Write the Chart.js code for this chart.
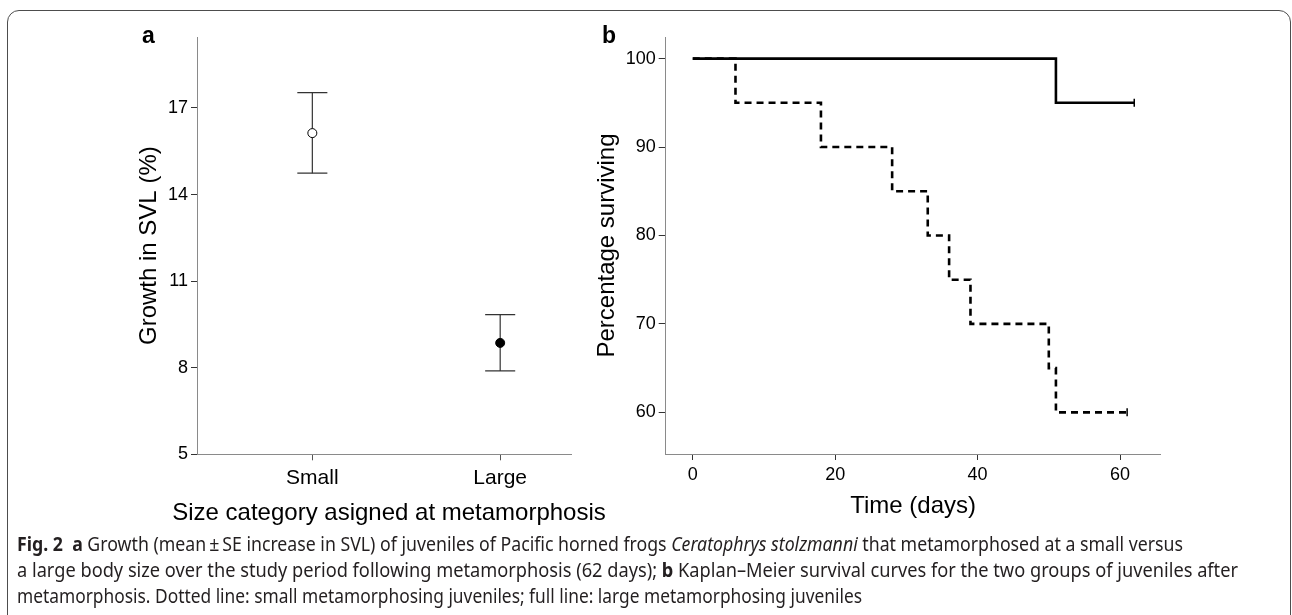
<!DOCTYPE html>
<html>
<head>
<meta charset="utf-8">
<script src="https://cdn.jsdelivr.net/npm/chart.js@4.4.1/dist/chart.umd.min.js"></script>
<style>
  body { margin: 0; background: #fff; width: 1292px; height: 615px; overflow: hidden; position: relative; font-family: "Liberation Sans", Arial, sans-serif; }
  #frame { position: absolute; left: 7px; top: 10px; width: 1284px; height: 640px; box-sizing: border-box; border: 1.5px solid #4d4d4d; border-radius: 12px; }
  #chartA { position: absolute; left: 0; top: 0; }
  #chartB { position: absolute; left: 580px; top: 0; }
  .panel { position: absolute; font-weight: bold; font-size: 23px; color: #000; }
  #xTitleA { position: absolute; left: 89px; width: 600px; top: 500px; text-align: center; font-size: 24px; line-height: 24px; color: #000; white-space: nowrap; }
  #caption { position: absolute; left: 17px; top: 531px; font-family: "Noto Sans", "Open Sans", sans-serif; font-size: 20px; line-height: 26px; color: #231f20; white-space: nowrap; }
  #caption .ln { width: max-content; transform-origin: left center; }
</style>
</head>
<body>
<div id="frame"></div>
<canvas id="chartA" width="620" height="540"></canvas>
<canvas id="chartB" width="712" height="540"></canvas>
<div class="panel" style="left:142px; top:22px;">a</div>
<div class="panel" style="left:602px; top:22px;">b</div>
<div id="xTitleA">Size category asigned at metamorphosis</div>
<div id="caption">
  <div class="ln" data-w="1166"><b>Fig. 2</b>&nbsp; <b>a</b> Growth (mean&thinsp;±&thinsp;SE increase in SVL) of juveniles of Pacific horned frogs <i>Ceratophrys stolzmanni</i> that metamorphosed at a small versus</div>
  <div class="ln" data-w="1221">a large body size over the study period following metamorphosis (62 days); <b>b</b> Kaplan–Meier survival curves for the two groups of juveniles after</div>
  <div class="ln" data-w="845">metamorphosis. Dotted line: small metamorphosing juveniles; full line: large metamorphosing juveniles</div>
</div>
<script>
// panel a: growth, mean +/- SE
var groups = ["Small", "Large"];
var groupPos = [1, 2];
var growthMean = [16.13, 8.86];
var growthUpper = [17.53, 9.84];
var growthLower = [14.74, 7.89];
var growthTicks = [5, 8, 11, 14, 17];

// panel b: Kaplan-Meier steps
var smallDays = [0, 6, 18, 28, 33, 36, 39, 50, 51, 61];
var smallSurv = [100, 95, 90, 85, 80, 75, 70, 65, 60, 60];
var largeDays = [0, 51, 62];
var largeSurv = [100, 95, 95];
var survTicks = [60, 70, 80, 90, 100];
var dayTicks = [0, 20, 40, 60];

document.addEventListener("DOMContentLoaded", function() {
    Chart.defaults.font.family = '"Liberation Sans", Arial, sans-serif';
    Chart.defaults.color = '#000';

    var axisGrey = '#8a8a8a';
    var tickFont = { size: 18 };
    var titleFont = { size: 24 };
    var capHalf = 0.08;

    // means first so they are drawn on top
    var datasetsA = [{
        data: groupPos.map(function(x, i) { return { x: x, y: growthMean[i] }; }),
        pointRadius: 4.5,
        pointBackgroundColor: ['#fff', '#000'],
        pointBorderColor: '#000',
        pointBorderWidth: 1,
        showLine: false
    }];
    groupPos.forEach(function(x, i) {
        var line = { showLine: true, borderColor: '#333', borderWidth: 1.2, pointRadius: 0 };
        datasetsA.push(Object.assign({ data: [{ x: x, y: growthLower[i] }, { x: x, y: growthUpper[i] }] }, line));
        datasetsA.push(Object.assign({ data: [{ x: x - capHalf, y: growthUpper[i] }, { x: x + capHalf, y: growthUpper[i] }] }, line));
        datasetsA.push(Object.assign({ data: [{ x: x - capHalf, y: growthLower[i] }, { x: x + capHalf, y: growthLower[i] }] }, line));
    });

    new Chart(document.getElementById("chartA").getContext("2d"), {
        type: "scatter",
        data: { datasets: datasetsA },
        options: {
            responsive: false,
            animation: false,
            devicePixelRatio: 1,
            layout: { padding: { left: 0, top: 37, right: 49, bottom: 0 } },
            plugins: { legend: { display: false }, tooltip: { enabled: false } },
            scales: {
                x: {
                    type: 'linear', min: 0.386, max: 2.377,
                    afterBuildTicks: function(s) { s.ticks = groupPos.map(function(v) { return { value: v }; }); },
                    afterFit: function(s) { s.height = 85.7; },
                    ticks: { font: { size: 21 }, padding: 5, callback: function(v, i) { return groups[i]; } },
                    grid: { drawOnChartArea: false, tickLength: 6, tickColor: '#555' },
                    border: { color: axisGrey, width: 1 }
                },
                y: {
                    min: 5, max: 19.46,
                    afterBuildTicks: function(s) { s.ticks = growthTicks.map(function(v) { return { value: v }; }); },
                    afterFit: function(s) { s.width = 197; },
                    ticks: { font: tickFont, padding: 3 },
                    grid: { drawOnChartArea: false, tickLength: 6, tickColor: '#333' },
                    border: { color: axisGrey, width: 1 },
                    title: { display: true, text: 'Growth in SVL (%)', font: titleFont, padding: { top: 135, bottom: 0 } }
                }
            }
        }
    });

    function steps(days, surv) {
        return days.map(function(d, i) { return { x: d, y: surv[i] }; });
    }
    function censorOnly(n) {
        return Array.from({ length: n }, function(_, i) { return i === n - 1 ? 4 : 0; });
    }

    new Chart(document.getElementById("chartB").getContext("2d"), {
        type: "line",
        data: {
            datasets: [{
                data: steps(largeDays, largeSurv),
                stepped: 'before',
                borderColor: '#000',
                borderWidth: 2.6,
                pointStyle: 'line',
                rotation: 90,
                pointRadius: censorOnly(largeDays.length),
                pointBorderColor: '#000',
                pointBorderWidth: 1.5
            }, {
                data: steps(smallDays, smallSurv),
                stepped: 'before',
                borderColor: '#000',
                borderWidth: 2.6,
                borderDash: [7, 5],
                pointStyle: 'line',
                rotation: 90,
                pointRadius: censorOnly(smallDays.length),
                pointBorderColor: '#000',
                pointBorderWidth: 1.5
            }]
        },
        options: {
            responsive: false,
            animation: false,
            devicePixelRatio: 1,
            layout: { padding: { left: 0, top: 37, right: 131.4, bottom: 0 } },
            plugins: { legend: { display: false }, tooltip: { enabled: false } },
            scales: {
                x: {
                    type: 'linear', min: -3.8, max: 65.7,
                    afterBuildTicks: function(s) { s.ticks = dayTicks.map(function(v) { return { value: v }; }); },
                    afterFit: function(s) { s.height = 86; },
                    ticks: { font: tickFont, padding: 4 },
                    grid: { drawOnChartArea: false, tickLength: 6, tickColor: '#333' },
                    border: { color: axisGrey, width: 1 },
                    title: { display: true, text: 'Time (days)', font: titleFont, padding: { top: 0, bottom: 19 } }
                },
                y: {
                    min: 55.29, max: 102.44,
                    afterBuildTicks: function(s) { s.ticks = survTicks.map(function(v) { return { value: v }; }); },
                    afterFit: function(s) { s.width = 85.7; },
                    ticks: { font: tickFont, padding: 3 },
                    grid: { drawOnChartArea: false, tickLength: 7, tickColor: '#333' },
                    border: { color: axisGrey, width: 1 },
                    title: { display: true, text: 'Percentage surviving', font: titleFont, padding: { top: 13, bottom: 0 } }
                }
            }
        }
    });

    // squeeze each caption line to its printed width
    document.querySelectorAll('#caption .ln').forEach(function(el) {
        var k = parseFloat(el.dataset.w) / el.getBoundingClientRect().width;
        el.style.transform = 'scaleX(' + k + ')';
    });
});
</script>
</body>
</html>
